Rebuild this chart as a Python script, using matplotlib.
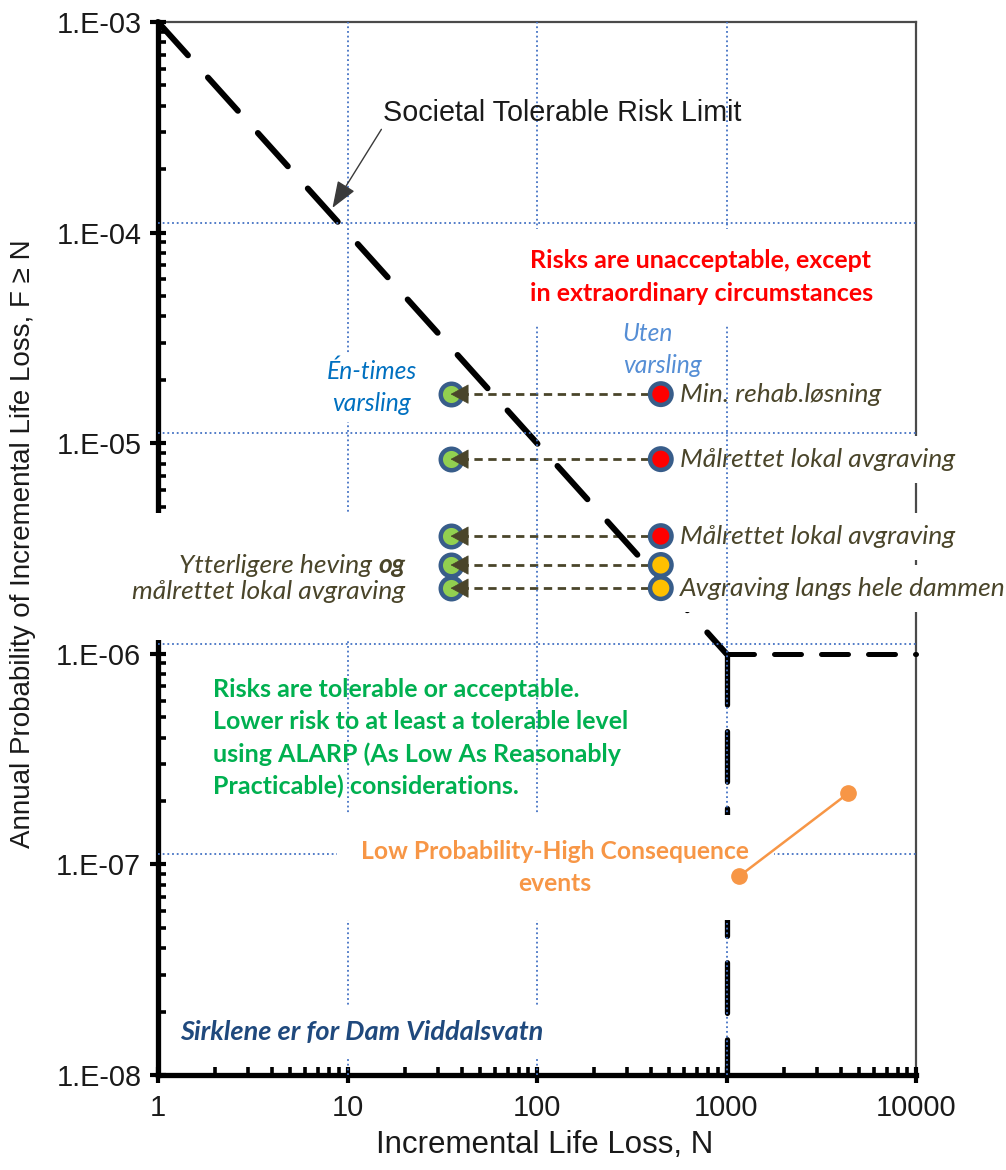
import matplotlib
matplotlib.use("Agg")
import matplotlib.pyplot as plt
from matplotlib.ticker import FixedLocator, FixedFormatter, LogLocator, NullFormatter
from matplotlib.patches import Rectangle
from matplotlib.transforms import blended_transform_factory, ScaledTranslation

# Societal tolerable risk limit (F-N line and vertical cut-off at N = 1000)
limit_n = [1, 1000, 10000]
limit_f = [1e-3, 1e-6, 1e-6]
cutoff_n = [1000, 1000]
cutoff_f = [1e-6, 1e-8]

# Dam Viddalsvatn alternatives: without warning (right) and with one-time warning (left)
n_without_warning = 450
n_with_warning = 35
alt_prob = [1.71e-5, 8.4e-6, 3.62e-6, 2.64e-6, 2.05e-6]
alt_colors = ["#FF0000", "#FF0000", "#FF0000", "#FFC000", "#FFC000"]
alt_labels = ["Min. rehab.løsning", "Målrettet lokal avgraving",
              "Målrettet lokal avgraving", "", "Avgraving langs hele dammen"]

# Low probability - high consequence events
lphc_n = [1170, 4400]
lphc_f = [8.8e-8, 2.18e-7]

x_ticks = [1, 10, 100, 1000, 10000]
x_tick_labels = ["1", "10", "100", "1000", "10000"]
y_ticks = [1e-8, 1e-7, 1e-6, 1e-5, 1e-4, 1e-3]
y_tick_labels = ["1.E-08", "1.E-07", "1.E-06", "1.E-05", "1.E-04", "1.E-03"]

ARIAL = ["Liberation Sans", "DejaVu Sans"]
CAL = ["Lato", "DejaVu Sans"]
GRID = dict(color="#4472C4", linestyle=(0, (1, 1.6)), linewidth=1.3, zorder=3)

W, H = 1006, 1170
fig = plt.figure(figsize=(W / 100, H / 100), dpi=100)
ax = fig.add_axes([158 / W, 95 / H, 758 / W, 1053 / H])
ax.set_xscale("log")
ax.set_yscale("log")
ax.set_xlim(1, 1e4)
ax.set_ylim(1e-8, 1e-3)

# axes frame
for side in ("left", "bottom"):
    ax.spines[side].set_linewidth(3.8)
    ax.spines[side].set_color("black")
for side in ("top", "right"):
    ax.spines[side].set_linewidth(1.6)
    ax.spines[side].set_color("#4a4a4a")
    ax.spines[side].set_zorder(1)

# ticks
ax.xaxis.set_major_locator(FixedLocator(x_ticks))
ax.xaxis.set_major_formatter(FixedFormatter(x_tick_labels))
ax.yaxis.set_major_locator(FixedLocator(y_ticks))
ax.yaxis.set_major_formatter(FixedFormatter(y_tick_labels))
for axis in (ax.xaxis, ax.yaxis):
    axis.set_minor_locator(LogLocator(base=10, subs=range(2, 10), numticks=20))
    axis.set_minor_formatter(NullFormatter())
ax.tick_params(which="major", direction="inout", length=12, width=3,
               color="black", labelcolor="#1a1a1a", labelsize=20.8)
ax.tick_params(which="minor", direction="in", length=6, width=2.6, color="black")
ax.tick_params(axis="x", which="major", pad=8)
ax.tick_params(axis="y", which="major", pad=6)
ax.tick_params(top=False, right=False, which="both")
for lab in ax.get_xticklabels() + ax.get_yticklabels():
    lab.set_fontfamily(ARIAL)

# dotted grid: vertical at interior decades, horizontal drawn slightly above each decade
for x in x_ticks[1:-1]:
    ax.axvline(x, **GRID)
hgrid_tr = blended_transform_factory(ax.transAxes, ax.transData) + \
    ScaledTranslation(0, 0.10, fig.dpi_scale_trans)
for y in y_ticks[1:-1]:
    ax.plot([0, 1], [y, y], transform=hgrid_tr, **GRID)

ax.set_xlabel("Incremental Life Loss, N", fontsize=22.5, family=ARIAL, color="#1a1a1a")
ax.set_ylabel("Annual Probability of Incremental Life Loss, F \u2265 N", fontsize=20,
              family=ARIAL, color="#1a1a1a")
ax.xaxis.set_label_coords(0.51, -0.052)
ax.yaxis.set_label_coords(-0.161, 0.505)

# risk limit line
ax.plot(limit_n[:2], limit_f[:2], color="black", lw=4.3, dashes=(7.5, 5),
        dash_capstyle="round", clip_on=False, zorder=2)
ax.plot(limit_n[1:], limit_f[1:], color="black", lw=3.6, dashes=(5.4, 4),
        dash_capstyle="round", clip_on=False, zorder=2)
ax.plot(cutoff_n, cutoff_f, color="black", lw=3.8, dashes=(9.6, 5),
        dash_capstyle="round", clip_on=False, zorder=2)

ax.annotate("Societal Tolerable Risk Limit", xy=(8.33, 1.31e-4),
            xytext=(0.297, 0.914), textcoords="axes fraction",
            ha="left", va="center", fontsize=20.7, family=ARIAL, color="#1a1a1a",
            arrowprops=dict(arrowstyle="-|>,head_length=0.8,head_width=0.3",
                            color="#3a3a3a", lw=1.0, shrinkA=0, shrinkB=0,
                            relpos=(0.0, 0.0)), zorder=4)

# alternatives: dashed arrows from "without warning" to "with warning"
OLIVE = "#4A452A"
EDGE = "#385D8A"
for f in alt_prob:
    ax.plot([n_with_warning * 1.12, n_without_warning], [f, f], color=OLIVE, lw=2,
            dashes=(3, 2), zorder=1.9)
    ax.annotate("", xy=(n_with_warning, f), xytext=(13, 0), textcoords="offset points",
                arrowprops=dict(arrowstyle="-|>,head_length=0.55,head_width=0.3",
                                color=OLIVE, lw=0.5, shrinkA=0, shrinkB=0,
                                mutation_scale=22), zorder=5.5)
ax.scatter([n_with_warning] * len(alt_prob), alt_prob, s=240, c="#92D050",
           edgecolors=EDGE, linewidths=3.2, zorder=5)
ax.scatter([n_without_warning] * len(alt_prob), alt_prob, s=240, c=alt_colors,
           edgecolors=EDGE, linewidths=3.2, zorder=5)
for f, lab in zip(alt_prob, alt_labels):
    if lab:
        ax.annotate(lab, xy=(n_without_warning, f), xytext=(14, 0),
                    textcoords="offset points", ha="left", va="center",
                    fontsize=19, style="italic", family=CAL, color=OLIVE,
                    bbox=dict(boxstyle="square,pad=0.45", fc="white", ec="none"),
                    zorder=2.8)

# low probability - high consequence events
ax.plot(lphc_n, lphc_f, color="#F79646", lw=1.8, marker="o", ms=11, zorder=5)

# text blocks
ax.text(0.491, 0.758, "Risks are unacceptable, except\nin extraordinary circumstances",
        transform=ax.transAxes, ha="left", va="center", fontsize=18, weight="bold",
        family=CAL, color="#FF0000", linespacing=1.5,
        bbox=dict(boxstyle="square,pad=0.8", fc="white", ec="none"), zorder=4)
ax.text(0.282, 0.653, "Én-times\nvarsling", transform=ax.transAxes, ha="center",
        va="center", fontsize=17.7, style="italic", family=CAL, color="#0070C0",
        linespacing=1.5, bbox=dict(boxstyle="square,pad=0.25", fc="white", ec="none"),
        zorder=4)
ax.text(0.613, 0.689, "Uten\nvarsling", transform=ax.transAxes, ha="left",
        va="center", fontsize=17.7, style="italic", family=CAL, color="#558ED5",
        linespacing=1.45, bbox=dict(boxstyle="square,pad=0.25", fc="white", ec="none"),
        zorder=4)

# white text box on the left covering the frame
ax.add_patch(Rectangle((120 / W, (H - 640) / H), 300 / W, 127 / H,
                       transform=fig.transFigure, fc="white", ec="none",
                       clip_on=False, zorder=6))
og = ax.text(0.326, 0.4843, "og", transform=ax.transAxes, ha="right", va="center",
             fontsize=19, style="italic", weight="bold", family=CAL, color=OLIVE,
             zorder=7)
ax.annotate("Ytterligere heving ", xy=(0, 0.5), xycoords=og, ha="right", va="center",
            fontsize=19, style="italic", family=CAL, color=OLIVE, zorder=7)
ax.text(0.326, 0.4596, "målrettet lokal avgraving", transform=ax.transAxes, ha="right",
        va="center", fontsize=19, style="italic", family=CAL, color=OLIVE, zorder=7)

ax.text(0.0726, 0.320,
        "Risks are tolerable or acceptable.\nLower risk to at least a tolerable level\n"
        "using ALARP (As Low As Reasonably\nPracticable) considerations.",
        transform=ax.transAxes, ha="left", va="center", fontsize=18, weight="bold",
        family=CAL, color="#00B050", linespacing=1.47, zorder=4)
ax.text(0.524, 0.197, "Low Probability-High Consequence\nevents", transform=ax.transAxes,
        ha="center", va="center", fontsize=17.7, weight="bold", family=CAL,
        color="#F79646", linespacing=1.5,
        bbox=dict(boxstyle="square,pad=1.0", fc="white", ec="none"), zorder=4)
ax.text(0.029, 0.041, "Sirklene er for Dam Viddalsvatn", transform=ax.transAxes,
        ha="left", va="center", fontsize=19.5, style="italic", weight="bold",
        family=CAL, color="#1F497D",
        bbox=dict(boxstyle="square,pad=0.5", fc="white", ec="none"), zorder=4)

fig.savefig("out.png", dpi=100)
